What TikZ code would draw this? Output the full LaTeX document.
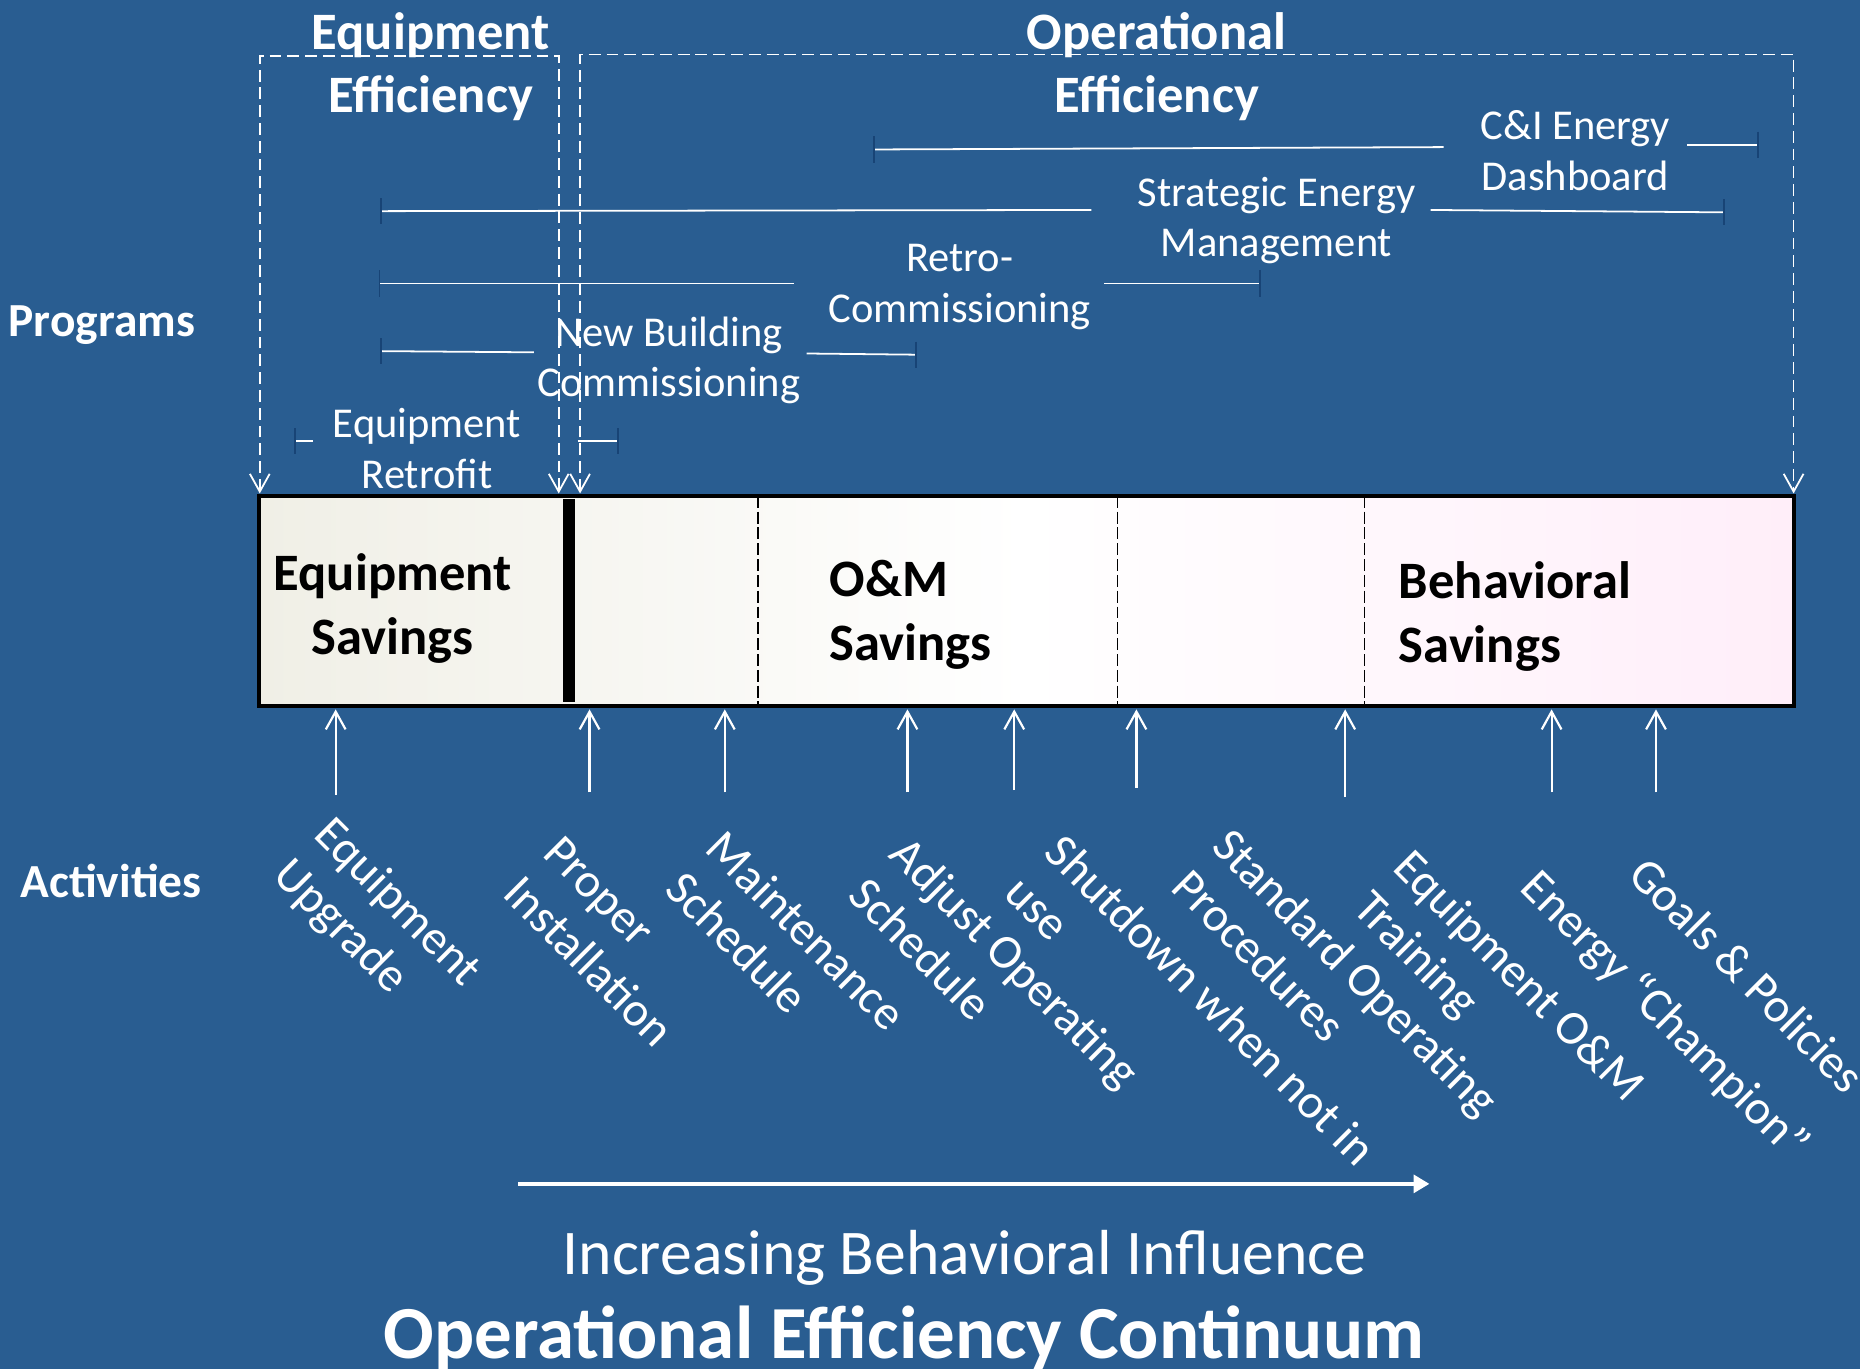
\documentclass[tikz,border=0pt]{standalone}
\usepackage{fontspec}
\setmainfont{Carlito}
\usepackage{tikz}
\usetikzlibrary{arrows.meta}
\definecolor{slide}{RGB}{41,93,145}
\definecolor{tickblue}{RGB}{24,68,118}
\definecolor{boxleft}{RGB}{240,239,230}
\definecolor{boxright}{RGB}{255,238,249}

\begin{document}
\begin{tikzpicture}[x=0.6pt, y=-0.6pt,
			head/.style={text=white, font=\bfseries\fontsize{26.6}{31.8}\selectfont, align=center, inner sep=0},
			side/.style={text=white, font=\bfseries\fontsize{24}{28}\selectfont, inner sep=0},
			save/.style={text=black, font=\bfseries\fontsize{26.6}{32.4}\selectfont, inner sep=0},
			prog/.style={text=white, font=\fontsize{21.5}{25.5}\selectfont, align=center, inner sep=0},
			act/.style={text=white, font=\fontsize{24.4}{29}\selectfont, rotate=-45, anchor=north west, align=left, inner sep=0},
			bracket/.style={draw=white, line width=0.9pt, dash pattern=on 6pt off 3pt, {Straight Barb[length=9pt,width=10pt]}-{Straight Barb[length=9pt,width=10pt]}},
			bar/.style={draw=white, line width=0.9pt},
			tick/.style={draw=tickblue, line width=0.9pt},
			up/.style={draw=white, line width=1.1pt, -{Straight Barb[length=9pt,width=10pt]}},
			divider/.style={draw=black, line width=0.6pt, dash pattern=on 6pt off 2pt},
			trend/.style={draw=white, line width=1.8pt, -{Triangle[length=8pt,width=9pt]}}
			]
			
			\fill[slide] (0,0) rectangle (1568,1154);
			\useasboundingbox (0,0) rectangle (1568,1154);
			
			\coordinate (boxNW) at (218,418);
			\coordinate (boxSE) at (1512,595);
			\coordinate (boxS) at (0,598);
			
			%% Savings bar
			\shade[left color=boxleft, right color=boxright, middle color=white] (boxNW) rectangle (boxSE);
			\draw[divider] (639,418) -- (639,595);
			\draw[divider] (942,418) -- (942,595);
			\draw[divider] (1150,418) -- (1150,595);
			\draw[line width=6pt] (480,421) -- (480,592);
			\draw[line width=2pt] (boxNW) rectangle (boxSE);
			
			\node[save, align=center] (eqsave) at (331,513) {Equipment\\Savings};
			\node[save, align=left, anchor=west] (omsave) at (699,518) {O\&M\\Savings};
			\node[save, align=left, anchor=west] (behsave) at (1179,520) {Behavioral\\Savings};
			
			%% Efficiency brackets
			\coordinate (eqL) at (219,416);
			\coordinate (eqR) at (471,416);
			\coordinate (opL) at (489,416);
			\coordinate (opR) at (1512,416);
			\draw[bracket] (eqL) -- ++(0,-369) -| (eqR);
			\draw[bracket] (opL) -- ++(0,-370) -| (opR);
			
			\node[head] (eqeff) at (363,56) {Equipment\\Efficiency};
			\node[head] (opeff) at (975,56) {Operational\\Efficiency};
			
			\node[side, anchor=west] (programs) at (7,274) {Programs};
			\node[side, anchor=west] (activities) at (17,743) {Activities};
			
			%% Programs
			\coordinate (cidS) at (737,126);
			\coordinate (cidA) at (1217,124);
			\coordinate (cidB) at (1422,122);
			\coordinate (cidE) at (1482,122);
			\node[prog] (cid) at (1328,127) {C\&I Energy\\Dashboard};
			\draw[bar] (cidS) -- (cidA);
			\draw[bar] (cidB) -- (cidE);
			\draw[tick] (cidS) ++(0,-11) -- ++(0,22);
			\draw[tick] (cidE) ++(0,-11) -- ++(0,22);
			
			\coordinate (semS) at (321,178);
			\coordinate (semA) at (920,177);
			\coordinate (semB) at (1206,177);
			\coordinate (semE) at (1453,179);
			\node[prog] (sem) at (1076,186) {Strategic Energy\\Management};
			\draw[bar] (semS) -- (semA);
			\draw[bar] (semB) -- (semE);
			\draw[tick] (semS) ++(0,-11) -- ++(0,22);
			\draw[tick] (semE) ++(0,-11) -- ++(0,22);
			
			\coordinate (rcxS) at (320,239);
			\coordinate (rcxA) at (669,239);
			\coordinate (rcxB) at (931,239);
			\coordinate (rcxE) at (1062,239);
			\node[prog] (rcx) at (809,242) {Retro-\\Commissioning};
			\draw[bar] (rcxS) -- (rcxA);
			\draw[bar] (rcxB) -- (rcxE);
			\draw[tick] (rcxS) ++(0,-11) -- ++(0,22);
			\draw[tick] (rcxE) ++(0,-11) -- ++(0,22);
			
			\coordinate (nbcS) at (321,296);
			\coordinate (nbcA) at (450,297);
			\coordinate (nbcB) at (680,298);
			\coordinate (nbcE) at (772,299);
			\node[prog] (nbc) at (564,304) {New Building\\Commissioning};
			\draw[bar] (nbcS) -- (nbcA);
			\draw[bar] (nbcB) -- (nbcE);
			\draw[tick] (nbcS) ++(0,-11) -- ++(0,22);
			\draw[tick] (nbcE) ++(0,-11) -- ++(0,22);
			
			\coordinate (eqrS) at (249,372);
			\coordinate (eqrA) at (264,372);
			\coordinate (eqrB) at (487,372);
			\coordinate (eqrE) at (521,372);
			\node[prog] (eqr) at (360,378) {Equipment\\Retrofit};
			\draw[bar] (eqrS) -- (eqrA);
			\draw[bar] (eqrB) -- (eqrE);
			\draw[tick] (eqrS) ++(0,-11) -- ++(0,22);
			\draw[tick] (eqrE) ++(0,-11) -- ++(0,22);
			
			%% Activities
			\coordinate (up1) at (283,670);
			\coordinate (up2) at (497,668);
			\coordinate (up3) at (611,668);
			\coordinate (up4) at (765,668);
			\coordinate (up5) at (855,666);
			\coordinate (up6) at (958,664);
			\coordinate (up7) at (1134,672);
			\coordinate (up8) at (1308,668);
			\coordinate (up9) at (1396,668);
			\draw[up] (up1) -- (up1 |- boxS);
			\draw[up] (up2) -- (up2 |- boxS);
			\draw[up] (up3) -- (up3 |- boxS);
			\draw[up] (up4) -- (up4 |- boxS);
			\draw[up] (up5) -- (up5 |- boxS);
			\draw[up] (up6) -- (up6 |- boxS);
			\draw[up] (up7) -- (up7 |- boxS);
			\draw[up] (up8) -- (up8 |- boxS);
			\draw[up] (up9) -- (up9 |- boxS);
			
			\node[act] (act1) at (283,685) {Equipment\\Upgrade};
			\node[act] (act2) at (475,702) {Proper\\Installation};
			\node[act] (act3) at (613,697) {Maintenance\\Schedule};
			\node[act] (act4) at (768,702) {Adjust Operating\\Schedule};
			\node[act] (act5) at (899,700) {Shutdown when not in\\use};
			\node[act] (act6) at (1040,695) {Standard Operating\\Procedures};
			\node[act] (act7) at (1193,713) {Equipment O\&M\\Training};
			\node[act] (act8) at (1301,729) {Energy “Champion”};
			\node[act] (act9) at (1391,719) {Goals \& Policies};
			
			%% Continuum
			\coordinate (trendS) at (437,998);
			\coordinate (trendE) at (1205,998);
			\draw[trend] (trendS) -- (trendE);
			\node[text=white, font=\fontsize{32.2}{38}\selectfont] (influence) at (813,1060) {Increasing Behavioral Influence};
			\node[text=white, font=\bfseries\fontsize{37.9}{44}\selectfont] (title) at (762,1128) {Operational Efficiency Continuum};
			
\end{tikzpicture}
\end{document}
